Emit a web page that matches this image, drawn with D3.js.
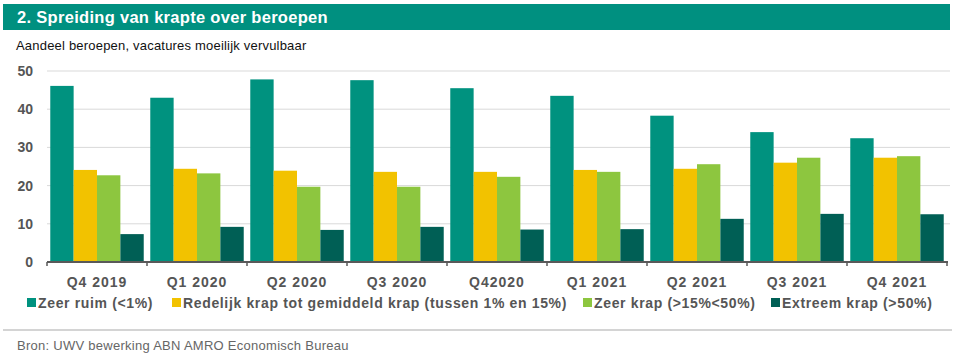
<!DOCTYPE html>
<html><head><meta charset="utf-8">
<script src="https://cdn.jsdelivr.net/npm/d3@7"></script>
<style>body{margin:0;background:#fff;}svg{display:block;font-family:Arial,"Liberation Sans",sans-serif;}</style>
</head><body><svg id="c" width="954" height="357"></svg>
<script>
const categories = ["Q4 2019","Q1 2020","Q2 2020","Q3 2020","Q42020","Q1 2021","Q2 2021","Q3 2021","Q4 2021"];
const seriesNames = ["Zeer ruim (<1%)","Redelijk krap tot gemiddeld krap (tussen 1% en 15%)","Zeer krap (>15%<50%)","Extreem krap (>50%)"];
const zeerRuim = [46.1,43.0,47.8,47.6,45.5,43.5,38.3,34.0,32.4];
const redelijkKrap = [24.1,24.4,23.9,23.6,23.6,24.1,24.4,26.0,27.3];
const zeerKrap = [22.7,23.2,19.7,19.7,22.3,23.6,25.6,27.3,27.7];
const extreemKrap = [7.3,9.2,8.4,9.2,8.5,8.6,11.3,12.6,12.5];
const yTicks = [0,10,20,30,40,50];
const colors = ["#00927f","#f2c200","#8dc63f","#005f55"];
const seriesValues = [zeerRuim, redelijkKrap, zeerKrap, extreemKrap];

const svg = d3.select("#c");
// title bar
svg.append("rect").attr("x",3).attr("y",4).attr("width",947).attr("height",26).attr("fill","#009080");
svg.append("text").attr("x",17).attr("y",23).attr("fill","#fff").attr("font-size",16.5).attr("letter-spacing",0.3).attr("font-weight","bold").text("2. Spreiding van krapte over beroepen");
svg.append("text").attr("x",16).attr("y",50).attr("fill","#111").attr("font-size",13).attr("letter-spacing",0.2).text("Aandeel beroepen, vacatures moeilijk vervulbaar");

const x0 = d3.scaleBand().domain(categories).range([47,947]).paddingInner(0).paddingOuter(0);
const x1 = d3.scaleBand().domain(d3.range(4)).range([0, x0.bandwidth()]).paddingInner(0).paddingOuter(0.14);
const y = d3.scaleLinear().domain([0,50]).range([262,71]);

// gridlines
svg.append("g").selectAll("line").data(yTicks.filter(d=>d>0)).join("line")
  .attr("x1",47).attr("x2",950).attr("y1",d=>y(d)).attr("y2",d=>y(d))
  .attr("stroke","#d9d9d9").attr("stroke-width",1);
// y labels
svg.append("g").selectAll("text").data(yTicks).join("text")
  .attr("x",33).attr("y",d=>y(d)+5).attr("text-anchor","end")
  .attr("font-size",14).attr("font-weight","bold").attr("fill","#555").text(d=>d);

// bars
const g = svg.append("g");
categories.forEach((c,i)=>{
  seriesValues.forEach((vals,s)=>{
    g.append("rect").attr("x",x0(c)+x1(s)).attr("width",x1.bandwidth())
      .attr("y",y(vals[i])).attr("height",y(0)-y(vals[i])).attr("fill",colors[s]);
  });
});

// x axis
const ax = svg.append("g").attr("transform","translate(0,262)");
ax.append("line").attr("x1",47).attr("x2",948).attr("y1",0).attr("y2",0).attr("stroke","#595959").attr("stroke-width",2);
ax.selectAll("line.tk").data(d3.range(categories.length+1)).join("line").attr("class","tk")
  .attr("x1",d=>47+d*x0.step()).attr("x2",d=>47+d*x0.step()).attr("y1",0).attr("y2",4)
  .attr("stroke","#595959").attr("stroke-width",1.5);
ax.selectAll("text.xl").data(categories).join("text").attr("class","xl")
  .attr("x",d=>x0(d)+x0.bandwidth()/2).attr("y",25).attr("text-anchor","middle")
  .attr("font-size",14).attr("letter-spacing",1).attr("font-weight","bold").attr("fill","#555").text(d=>d);

// legend
const legX = [27,172,583,771];
const lg = svg.append("g");
seriesNames.forEach((n,i)=>{
  lg.append("rect").attr("x",legX[i]).attr("y",298).attr("width",9).attr("height",9).attr("fill",colors[i]);
  lg.append("text").attr("x",legX[i]+11).attr("y",308).attr("font-size",14).attr("letter-spacing",0.65).attr("font-weight","bold").attr("fill","#555").text(n);
});

// separator and source
svg.append("line").attr("x1",3).attr("x2",952).attr("y1",330).attr("y2",330).attr("stroke","#d4d4d4").attr("stroke-width",2);
svg.append("text").attr("x",17).attr("y",350).attr("font-size",13).attr("letter-spacing",0.27).attr("fill","#666").text("Bron: UWV bewerking ABN AMRO Economisch Bureau");
</script></body></html>
